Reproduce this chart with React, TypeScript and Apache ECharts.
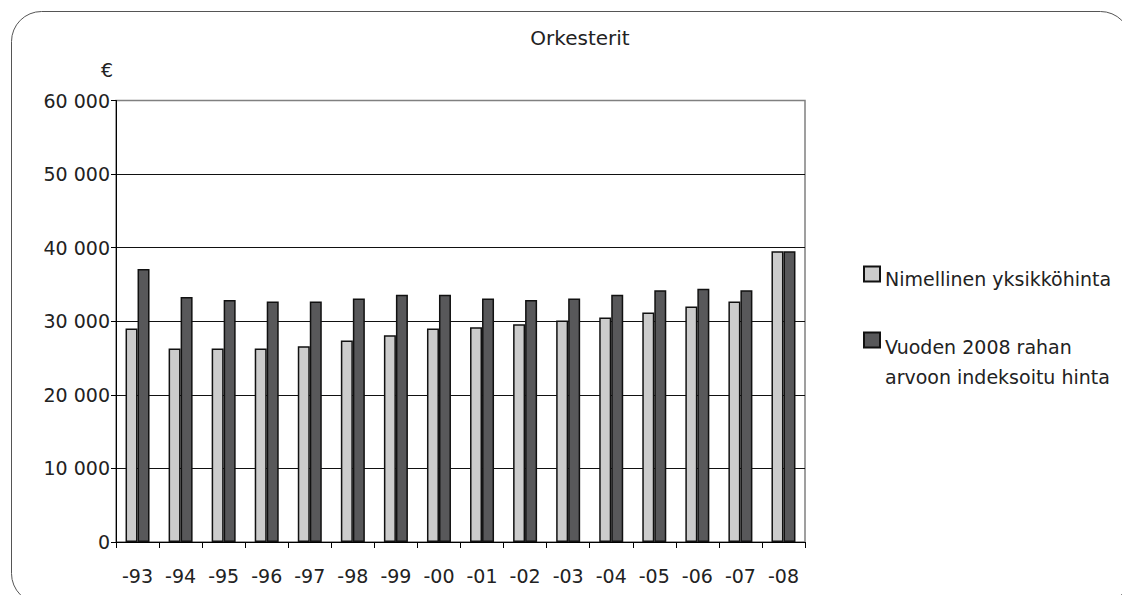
import React, { useEffect, useRef } from "react";
import * as echarts from "echarts";

const categories = ["-93", "-94", "-95", "-96", "-97", "-98", "-99", "-00", "-01", "-02", "-03", "-04", "-05", "-06", "-07", "-08"];
const nominalName = "Nimellinen yksikköhinta";
const indexedName = "Vuoden 2008 rahan arvoon indeksoitu hinta";
const indexedLines = ["Vuoden 2008 rahan", "arvoon indeksoitu hinta"];
const nominal = [29000, 26300, 26300, 26300, 26600, 27400, 28100, 29000, 29200, 29600, 30100, 30500, 31200, 32000, 32700, 39500];
const indexed = [37100, 33300, 32900, 32700, 32700, 33100, 33600, 33600, 33100, 32900, 33100, 33600, 34200, 34400, 34200, 39500];
const yTicks = { min: 0, max: 60000, interval: 10000 };
const titleText = "Orkesterit";
const unitText = "€";

const FONT = "DejaVu Sans";
const fmt = (v: number) => String(v).replace(/\B(?=(\d{3})+(?!\d))/g, " ");

const richStyles = {
  e: { fontFamily: FONT, fontSize: 19, lineHeight: 10 },
  e2: { fontFamily: FONT, fontSize: 19, lineHeight: 43 },
  t: { fontFamily: FONT, fontSize: 19, color: "#222", lineHeight: 30 },
};

export default function App() {
  const ref = useRef<HTMLDivElement>(null);
  useEffect(() => {
    if (!ref.current) return;
    const chart = echarts.init(ref.current, undefined, { renderer: "svg" });
    chart.setOption({
      animation: false,
      backgroundColor: "#fff",
      textStyle: { fontFamily: FONT, color: "#222" },
      title: {
        text: titleText,
        left: 575,
        top: 23,
        textAlign: "center",
        textStyle: { fontFamily: FONT, fontSize: 20, fontWeight: "normal", color: "#222" },
      },
      graphic: [
        {
          type: "rect",
          shape: { x: 11.5, y: 11.5, width: 1119, height: 592, r: 30 },
          style: { fill: "none", stroke: "#555", lineWidth: 1 },
          silent: true,
        },
      ],
      legend: [
        {
          data: [nominalName],
          left: 863,
          top: 249.5,
          padding: 0,
          orient: "vertical",
          itemWidth: 16,
          itemHeight: 15,
          icon: "rect",
          formatter: (n: string) => `{e| }\n{t|${n}}`,
          textStyle: { fontFamily: FONT, fontSize: 19, color: "#222", rich: richStyles },
        },
        {
          data: [indexedName],
          left: 863,
          top: 300.5,
          padding: 0,
          orient: "vertical",
          itemWidth: 16,
          itemHeight: 15,
          icon: "rect",
          formatter: () => `{e2| }\n{t|${indexedLines[0]}}\n{t|${indexedLines[1]}}`,
          textStyle: { fontFamily: FONT, fontSize: 19, color: "#222", rich: richStyles },
        },
      ],
      grid: {
        left: 116,
        top: 100.5,
        right: 317,
        bottom: 53,
        show: true,
        borderColor: "#808080",
        borderWidth: 1.5,
      },
      xAxis: {
        type: "category",
        data: categories,
        axisLine: { lineStyle: { color: "#000", width: 1 } },
        axisTick: { show: true, length: 6, lineStyle: { color: "#000" } },
        axisLabel: { fontFamily: FONT, fontSize: 19, color: "#222", margin: 24 },
        splitLine: { show: false },
      },
      yAxis: {
        type: "value",
        min: yTicks.min,
        max: yTicks.max,
        interval: yTicks.interval,
        name: unitText,
        nameLocation: "end",
        nameGap: 31,
        nameTextStyle: { fontFamily: FONT, fontSize: 19, color: "#222", align: "right", verticalAlign: "middle", padding: [0, 3, 0, 0] },
        axisLine: { show: true, lineStyle: { color: "#000", width: 1 } },
        axisTick: { show: true, length: 5, lineStyle: { color: "#000" } },
        axisLabel: { fontFamily: FONT, fontSize: 19, color: "#222", margin: 6, formatter: (v: number) => fmt(v), padding: [8, 0, 0, 0] },
        splitLine: { show: true, showMaxLine: false, lineStyle: { color: "#111", width: 1 } },
      },
      series: [
        {
          name: nominalName,
          type: "bar",
          data: nominal,
          barWidth: 12,
          barGap: "0%",
          itemStyle: { color: "#cccccc", borderColor: "#111", borderWidth: 1.5 },
        },
        {
          name: indexedName,
          type: "bar",
          data: indexed,
          barWidth: 12,
          barGap: "0%",
          itemStyle: { color: "#58585a", borderColor: "#111", borderWidth: 1.5 },
        },
      ],
    });
    return () => chart.dispose();
  }, []);
  return <div ref={ref} style={{ position: "absolute", left: 0, top: 0, width: 1122, height: 595 }} />;
}
